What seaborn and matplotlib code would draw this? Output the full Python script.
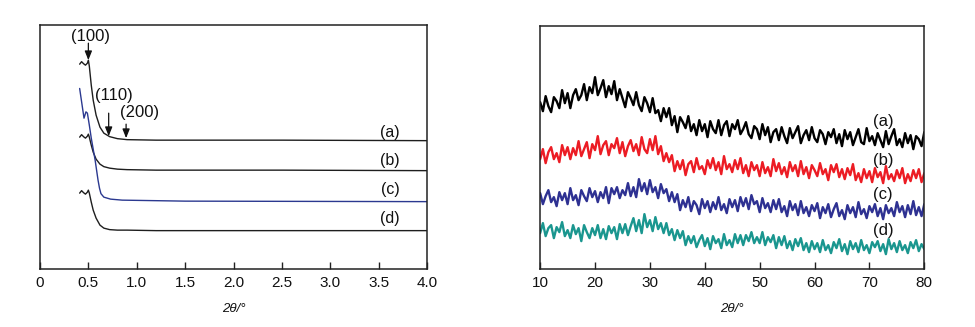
import numpy as np
import matplotlib
matplotlib.use("Agg")
import matplotlib.pyplot as plt
import seaborn as sns

# ---------------- Left panel: small-angle XRD (0-4 deg) ----------------
sa_x = [0.41, 0.43, 0.45, 0.47, 0.49, 0.50, 0.51, 0.53, 0.55, 0.58, 0.62, 0.66,
        0.72, 0.80, 0.90, 1.20, 2.50, 4.00]
sa_a = [204, 206.5, 204.5, 203, 205, 208, 202, 183, 168, 153, 141, 135,
        131.5, 129.5, 128.5, 128, 128, 127.5]
sa_b = [131, 133.5, 131.5, 130, 132, 134, 131, 123, 116, 109, 104, 101.5,
        100, 99, 98.5, 98, 98, 97.5]
sa_d = [75, 77.5, 75.5, 74, 76, 78, 75, 66, 58, 50, 43, 40,
        38.5, 38, 38, 37.5, 37.5, 37.5]
sa_c_x = [0.41, 0.455, 0.475, 0.49, 0.51, 0.53, 0.57, 0.60, 0.615, 0.63, 0.66,
          0.73, 0.85, 1.5, 4.0]
sa_c = [179.7, 150, 156.3, 155, 143, 130, 108, 88, 80, 74.5, 71,
        69, 68, 67, 66.5]
left_ticks = [0, 0.5, 1.0, 1.5, 2.0, 2.5, 3.0, 3.5, 4.0]
left_ticklabels = ["0", "0.5", "1.0", "1.5", "2.0", "2.5", "3.0", "3.5", "4.0"]
series_labels = ["(a)", "(b)", "(c)", "(d)"]
peak_labels = ["(100)", "(110)", "(200)"]
peak_pos = [0.50, 0.71, 0.89]

# ---------------- Right panel: wide-angle XRD (10-80 deg) ----------------
wa_start, wa_step = 10.0, 0.5
wa_a = [168, 159, 174, 164, 158, 173, 169, 162, 180, 167, 177, 162, 175, 181, 170, 175,
        186, 170, 183, 177, 193, 175, 182, 190, 173, 184, 176, 189, 170, 181, 172, 163,
        178, 172, 165, 178, 165, 159, 173, 167, 158, 172, 157, 160, 149, 162, 153, 162,
        145, 154, 138, 153, 148, 142, 154, 139, 146, 135, 150, 139, 146, 133, 149, 141,
        137, 150, 135, 145, 149, 134, 146, 141, 150, 136, 141, 148, 136, 132, 144, 141,
        131, 146, 135, 143, 128, 138, 141, 130, 143, 134, 127, 142, 132, 138, 144, 127,
        135, 140, 130, 143, 132, 128, 140, 136, 126, 138, 133, 141, 127, 136, 124, 140,
        131, 138, 125, 133, 141, 128, 126, 142, 129, 134, 125, 137, 130, 123, 139, 126,
        134, 141, 125, 131, 123, 137, 127, 135, 121, 134, 131, 124, 138]
wa_b = [111, 121, 107, 118, 123, 111, 117, 108, 125, 115, 123, 111, 122, 115, 129, 114,
        121, 128, 112, 126, 120, 134, 116, 125, 129, 115, 126, 122, 132, 117, 128, 114,
        124, 130, 119, 126, 115, 133, 121, 117, 131, 120, 134, 116, 124, 109, 117, 108,
        115, 99, 109, 101, 110, 95, 106, 109, 98, 112, 101, 104, 96, 110, 102, 112,
        100, 108, 96, 114, 101, 106, 98, 110, 101, 112, 97, 105, 94, 108, 100, 105,
        94, 108, 97, 103, 94, 111, 99, 107, 96, 103, 93, 108, 99, 105, 94, 109,
        96, 103, 92, 105, 100, 94, 107, 96, 101, 90, 105, 98, 106, 93, 101, 91,
        102, 95, 106, 90, 97, 88, 101, 92, 99, 88, 102, 93, 98, 87, 104, 91,
        96, 89, 100, 92, 102, 87, 96, 89, 100, 92, 101, 88, 97]
wa_c = [77, 66, 74, 80, 68, 73, 64, 78, 70, 77, 66, 82, 70, 75, 65, 80,
        74, 69, 82, 73, 79, 68, 78, 72, 83, 67, 82, 76, 83, 72, 80, 75,
        87, 74, 83, 73, 91, 79, 87, 76, 90, 78, 83, 72, 86, 77, 81, 69,
        78, 68, 76, 60, 70, 63, 73, 59, 69, 65, 56, 71, 62, 69, 58, 68,
        61, 73, 60, 66, 57, 71, 63, 70, 59, 73, 64, 72, 61, 75, 66, 69,
        58, 72, 62, 67, 58, 70, 61, 71, 58, 64, 54, 69, 60, 66, 55, 69,
        57, 63, 54, 65, 59, 67, 52, 63, 57, 66, 53, 61, 67, 54, 60, 51,
        65, 57, 63, 53, 68, 56, 61, 52, 64, 58, 66, 54, 62, 51, 65, 57,
        62, 54, 68, 58, 64, 53, 65, 56, 69, 55, 63, 54, 66]
wa_d = [37, 47, 34, 42, 45, 32, 43, 38, 48, 34, 40, 32, 45, 36, 42, 29,
        45, 38, 32, 42, 35, 45, 32, 41, 31, 44, 37, 43, 31, 46, 37, 46,
        35, 44, 52, 39, 50, 37, 56, 43, 50, 39, 53, 41, 47, 37, 47, 35,
        41, 30, 40, 32, 39, 25, 34, 27, 34, 23, 30, 35, 24, 32, 21, 34,
        27, 31, 22, 36, 25, 30, 23, 36, 27, 35, 25, 35, 29, 38, 27, 33,
        27, 38, 25, 33, 28, 35, 22, 33, 25, 34, 22, 29, 20, 31, 24, 32,
        20, 27, 18, 29, 21, 27, 18, 30, 20, 25, 17, 28, 22, 31, 19, 26,
        16, 29, 21, 27, 18, 30, 20, 25, 17, 28, 23, 29, 19, 26, 16, 31,
        21, 27, 18, 29, 20, 25, 17, 28, 22, 30, 19, 26, 21]
right_ticks = [10, 20, 30, 40, 50, 60, 70, 80]

# ---------------- Style ----------------
sns.set_theme(style="white")
plt.rcParams["font.family"] = ["Liberation Sans", "DejaVu Sans"]
plt.rcParams["axes.edgecolor"] = "#222222"
plt.rcParams["axes.linewidth"] = 1.1

fig = plt.figure(figsize=(9.75, 3.27), dpi=100)
axL = fig.add_axes([0.041, 0.177, 0.397, 0.746])
axR = fig.add_axes([0.554, 0.177, 0.394, 0.743])

dark = "#1e1e1e"
blue_l = "#2b3990"
colors_r = ["#000000", "#ec1c24", "#2e3192", "#1a968f"]

# Left panel
for ys in (sa_a, sa_b, sa_d):
    sns.lineplot(x=sa_x, y=ys, ax=axL, color=dark, lw=1.0, estimator=None, sort=False)
sns.lineplot(x=sa_c_x, y=sa_c, ax=axL, color=blue_l, lw=1.0, estimator=None, sort=False)
axL.set_xlim(0, 4.0)
axL.set_ylim(-1, 243)
axL.set_xticks(left_ticks)
axL.set_xticklabels(left_ticklabels)
axL.set_yticks([])
lab_y_left = [135.3, 107.3, 79, 50]
for lab, yy in zip(series_labels, lab_y_left):
    axL.text(3.62, yy, lab, ha="center", va="center", fontsize=11.5, color="#111111")

# Peak annotations
ann = [(0.527, 231.3, 0.50, 225, 208),
       (0.765, 173.0, 0.71, 155, 132),
       (1.026, 155.3, 0.89, 144, 130)]
for lab, (tx, ty, ax_x, y0, y1) in zip(peak_labels, ann):
    axL.text(tx, ty, lab, ha="center", va="center", fontsize=12, color="#111111")
    axL.annotate("", xy=(ax_x, y1), xytext=(ax_x, y0),
                 arrowprops=dict(arrowstyle="-|>,head_length=0.45,head_width=0.18",
                                 color="#111111", lw=0.9, shrinkA=0, shrinkB=0))

# Right panel
wa_series = [wa_a, wa_b, wa_c, wa_d]
for ys, col in zip(wa_series, colors_r):
    xs = wa_start + wa_step * np.arange(len(ys))
    sns.lineplot(x=xs, y=ys, ax=axR, color=col, lw=1.7, estimator=None, sort=False)
axR.set_xlim(10, 80)
axR.set_ylim(1, 244)
axR.set_xticks(right_ticks)
axR.set_yticks([])
lab_y_right = [148.3, 110, 76, 39.3]
for lab, yy in zip(series_labels, lab_y_right):
    axR.text(72.5, yy, lab, ha="center", va="center", fontsize=12, color="#111111")

for ax in (axL, axR):
    ax.tick_params(axis="x", direction="in", length=5, width=1.0, color="#222222",
                   labelsize=11, pad=5, labelcolor="#111111", bottom=True)
    ax.set_xlabel("2θ/°", fontsize=9.5, fontstyle="italic", labelpad=9, color="#111111")
    for sp in ax.spines.values():
        sp.set_color("#222222")
        sp.set_linewidth(1.1)

fig.savefig("out.png", dpi=100)
